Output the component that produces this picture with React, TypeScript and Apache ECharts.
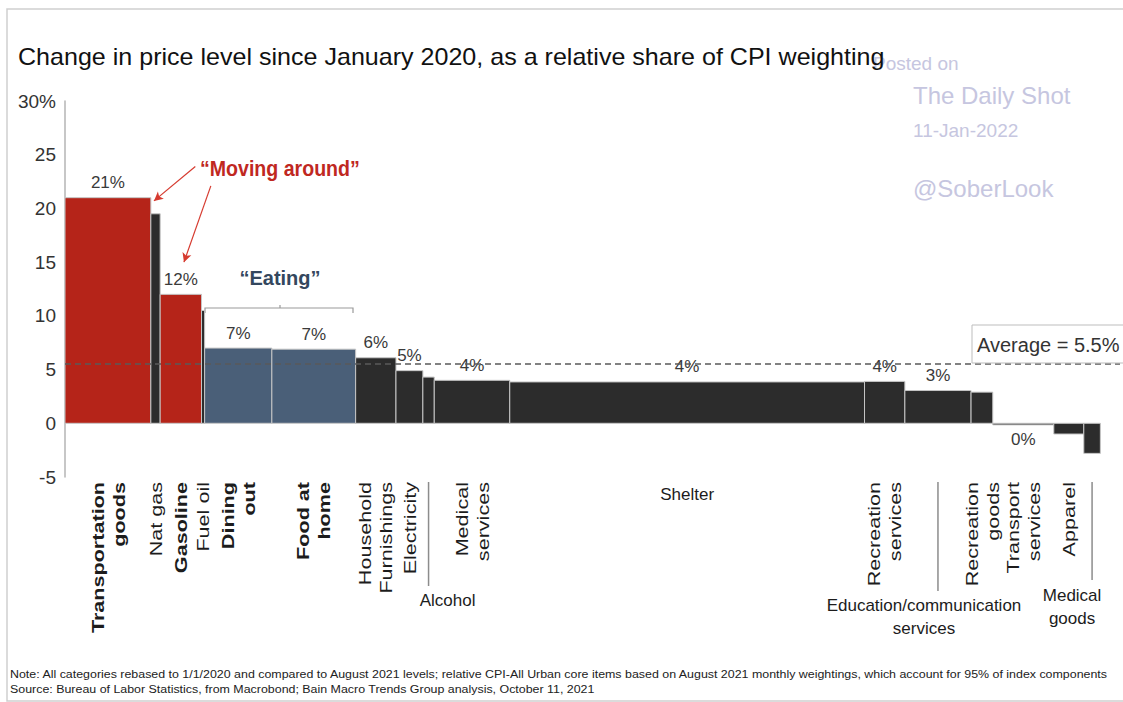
import React, { useEffect, useRef } from "react";
import * as echarts from "echarts";

const FONT = "'Liberation Sans', Arial, Helvetica, sans-serif";

// ---- data ----
const categories = [
  "Transportation goods", "Nat gas", "Gasoline", "Fuel oil", "Dining out", "Food at home",
  "Household Furnishings", "Electricity", "Alcohol", "Medical services", "Shelter",
  "Recreation services", "Education/communication services", "Recreation goods",
  "Transport services", "Apparel", "Medical goods",
];
const axisNames = [
  "Transportation\ngoods", "Nat gas", "Gasoline", "Fuel oil", "Dining\nout", "Food at\nhome",
  "Household\nFurnishings", "Electricity", "Alcohol", "Medical\nservices", "Shelter",
  "Recreation\nservices", "Education/communication\nservices", "Recreation\ngoods",
  "Transport\nservices", "Apparel", "Medical\ngoods",
];
// relative share of CPI weighting (%)
const cpiWeights = [8.3, 0.9, 4.0, 0.3, 6.5, 8.1, 3.9, 2.6, 1.1, 7.3, 34.3, 3.9, 6.4, 2.1, 5.9, 2.9, 1.6];
// change in price level since Jan 2020 (%)
const priceChange = [21.0, 19.5, 12.0, 10.5, 7.0, 6.9, 6.1, 4.9, 4.3, 4.0, 3.85, 3.9, 3.05, 2.9, -0.15, -1.0, -2.8];
const valueLabels = ["21%", "", "12%", "", "7%", "7%", "6%", "5%", "", "4%", "4%", "4%", "3%", "", "0%", "", ""];
const groups = ["move", "other", "move", "other", "eat", "eat", "other", "other", "other", "other",
  "other", "other", "other", "other", "other", "other", "other"];
const yTicks = [-5, 0, 5, 10, 15, 20, 25, 30];
const averageChange = 5.5;

const title = "Change in price level since January 2020, as a relative share of CPI weighting";
const noteLine = "Note: All categories rebased to 1/1/2020 and compared to August 2021 levels; relative CPI-All Urban core items based on August 2021 monthly weightings, which account for 95% of index components";
const sourceLine = "Source: Bureau of Labor Statistics, from Macrobond; Bain Macro Trends Group analysis, October 11, 2021";

// ---- styles ----
const colors: Record<string, string> = { move: "#b52419", eat: "#4a5f78", other: "#2c2c2c" };
type Lay = { mode?: "v" | "h" | "lead"; bold?: boolean; dx?: number; dy?: number; len?: number };
const labelLayout: Record<string, Lay> = {
  "Transportation goods": { bold: true },
  "Gasoline": { bold: true },
  "Dining out": { bold: true },
  "Food at home": { bold: true },
  "Shelter": { mode: "h", dy: 1 },
  "Alcohol": { mode: "lead", len: 104, dx: 19, dy: 107 },
  "Education/communication services": { mode: "lead", len: 109, dx: -14, dy: 112 },
  "Medical goods": { mode: "lead", len: 98, dx: -20, dy: 102 },
};

const starts: number[] = [];
cpiWeights.reduce((acc, w) => { starts.push(acc); return acc + w; }, 0);
const seriesData = categories.map((_, i) => [starts[i], starts[i] + cpiWeights[i], priceChange[i]]);

const renderItem = (params: any, api: any) => {
  const i = params.dataIndex;
  const a = api.coord([api.value(0), 0]);
  const b = api.coord([api.value(1), api.value(2)]);
  const v = api.value(2);
  const left = a[0];
  const right = b[0];
  const top = Math.min(a[1], b[1]);
  const h = Math.max(Math.abs(b[1] - a[1]), 1.5);
  const cx = (left + right) / 2;
  const baseY = api.coord([0, yTicks[0]])[1] + 5;
  const children: any[] = [
    {
      type: "rect",
      shape: { x: left, y: top, width: right - left, height: h },
      style: { fill: colors[groups[i]], stroke: "#c6c6c6", lineWidth: 1 },
    },
  ];
  if (valueLabels[i]) {
    children.push({
      type: "text",
      x: cx,
      y: v >= 0 ? top - 15 : top + h + 15,
      style: {
        text: valueLabels[i], fontFamily: FONT, fontSize: 17, fill: "#3a3a3a",
        align: "center", verticalAlign: "middle",
      },
    });
  }
  const lay = labelLayout[categories[i]] || {};
  const mode = lay.mode || "v";
  if (mode === "v") {
    children.push({
      type: "text", x: cx, y: baseY, rotation: Math.PI / 2, scaleX: 1.27,
      style: {
        text: axisNames[i], fontFamily: FONT, fontSize: 17, fontWeight: lay.bold ? "bold" : "normal",
        fill: "#1c1c1c", align: "right", verticalAlign: "middle", lineHeight: 21,
      },
    });
  } else if (mode === "h") {
    children.push({
      type: "text", x: cx, y: baseY + (lay.dy || 0),
      style: {
        text: axisNames[i], fontFamily: FONT, fontSize: 17, fill: "#1c1c1c",
        align: "center", verticalAlign: "top", lineHeight: 23,
      },
    });
  } else {
    children.push({
      type: "line",
      shape: { x1: cx, y1: baseY, x2: cx, y2: baseY + (lay.len || 0) },
      style: { stroke: "#8c8c8c", lineWidth: 1.5 },
    });
    children.push({
      type: "text", x: cx + (lay.dx || 0), y: baseY + (lay.dy || 0),
      style: {
        text: axisNames[i], fontFamily: FONT, fontSize: 17, fill: "#1c1c1c",
        align: "center", verticalAlign: "top", lineHeight: 23,
      },
    });
  }
  return { type: "group", children };
};

export default function App() {
  const ref = useRef<HTMLDivElement>(null);
  useEffect(() => {
    if (!ref.current) return;
    const chart = echarts.init(ref.current, undefined, { renderer: "svg" });
    const wm = "#c6c6e0";
    chart.setOption({
      animation: false,
      backgroundColor: "#ffffff",
      grid: { left: 65, right: 3, top: 101, height: 376 },
      xAxis: { type: "value", min: 0, max: 102, show: false },
      yAxis: {
        type: "value", min: yTicks[0], max: yTicks[yTicks.length - 1], interval: 5,
        splitLine: { show: false },
        axisTick: { show: false },
        axisLine: { show: true, lineStyle: { color: "#b4b4b4", width: 1.5 } },
        axisLabel: {
          margin: 9, fontFamily: FONT, fontSize: 19, color: "#333",
          formatter: (v: number) => (v === yTicks[yTicks.length - 1] ? v + "%" : String(v)),
        },
      },
      series: [
        {
          type: "custom",
          renderItem,
          data: seriesData,
          encode: { x: [0, 1], y: 2 },
          markLine: {
            silent: true,
            symbol: "none",
            label: { show: false },
            data: [
              { yAxis: averageChange, lineStyle: { type: [6, 4], color: "#5a5a5a", width: 1.5 } },
              [
                { coord: [12.6, 23.9], lineStyle: { type: "solid", color: "#d63a2f", width: 1.2 } },
                { coord: [8.6, 20.7], symbol: "arrow", symbolSize: [7, 9] },
              ],
              [
                { coord: [14.1, 22.1], lineStyle: { type: "solid", color: "#d63a2f", width: 1.2 } },
                { coord: [11.5, 15.0], symbol: "arrow", symbolSize: [7, 9] },
              ],
            ],
          },
        },
      ],
      graphic: [
        { type: "rect", z: 0, shape: { x: 7, y: 9, width: 1130, height: 692 }, style: { fill: "none", stroke: "#cfcfcf", lineWidth: 1.5 } },
        { type: "text", x: 873, y: 63, style: { text: "Posted on", fontFamily: FONT, fontSize: 19, fill: wm, verticalAlign: "middle" } },
        { type: "text", x: 913, y: 95, style: { text: "The Daily Shot", fontFamily: FONT, fontSize: 24, fill: wm, verticalAlign: "middle" } },
        { type: "text", x: 913, y: 130, style: { text: "11-Jan-2022", fontFamily: FONT, fontSize: 19, fill: wm, verticalAlign: "middle" } },
        { type: "text", x: 913, y: 188, style: { text: "@SoberLook", fontFamily: FONT, fontSize: 24, fill: wm, verticalAlign: "middle" } },
        { type: "text", x: 18, y: 57, scaleX: 1.09, style: { text: title, fontFamily: FONT, fontSize: 23, fill: "#111", verticalAlign: "middle" } },
        { type: "text", x: 200, y: 168, scaleX: 0.89, style: { text: "\u201cMoving around\u201d", fontFamily: FONT, fontSize: 22, fontWeight: "bold", fill: "#c0281f", verticalAlign: "middle" } },
        { type: "text", x: 280, y: 278, style: { text: "\u201cEating\u201d", fontFamily: FONT, fontSize: 20, fontWeight: "bold", fill: "#34475e", align: "center", verticalAlign: "middle" } },
        { type: "polyline", shape: { points: [[205, 313], [205, 308], [353, 308], [353, 313]] }, style: { stroke: "#9a9a9a", lineWidth: 1.2, fill: "none" } },
        { type: "line", shape: { x1: 280, y1: 308, x2: 280, y2: 305 }, style: { stroke: "#9a9a9a", lineWidth: 1.2 } },
        { type: "rect", z: 10, shape: { x: 972, y: 325, width: 160, height: 38 }, style: { fill: "#fff", stroke: "#bdbdbd", lineWidth: 1 } },
        { type: "text", z: 11, x: 977, y: 345, style: { text: "Average = 5.5%", fontFamily: FONT, fontSize: 20, fill: "#333", verticalAlign: "middle" } },
        { type: "text", x: 10, y: 674, scaleX: 1.08, style: { text: noteLine, fontFamily: FONT, fontSize: 11.5, fill: "#222", verticalAlign: "middle" } },
        { type: "text", x: 10, y: 689, scaleX: 1.08, style: { text: sourceLine, fontFamily: FONT, fontSize: 11.5, fill: "#222", verticalAlign: "middle" } },
      ],
    });
    return () => chart.dispose();
  }, []);
  return <div ref={ref} style={{ position: "absolute", left: 0, top: 0, width: 1123, height: 702 }} />;
}
